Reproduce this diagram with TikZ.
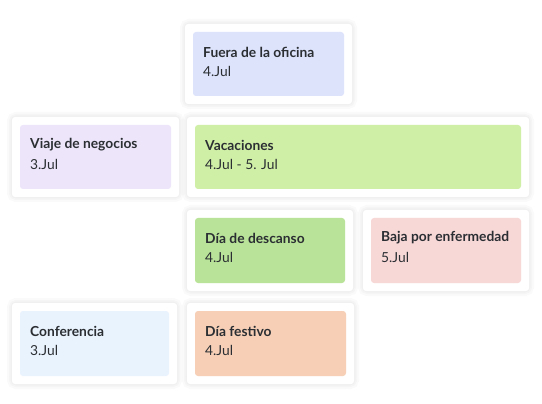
\documentclass[tikz,border=0pt]{standalone}
\usepackage{fontspec}
\setmainfont{Lato}
\definecolor{txt}{HTML}{2B2F33}
\definecolor{cFuera}{HTML}{DCE3FB}
\definecolor{cViaje}{HTML}{EDE5FA}
\definecolor{cVac}{HTML}{D0EFA6}
\definecolor{cDesc}{HTML}{B9E398}
\definecolor{cBaja}{HTML}{F8D7D7}
\definecolor{cConf}{HTML}{E9F3FE}
\definecolor{cFest}{HTML}{F6CFB6}
\tikzset{
  cardbox/.style={fill=white, rounded corners=3pt, inner sep=0pt, outer sep=0pt},
  halo/.style={draw=black, opacity=0.018, line width=#1, rounded corners=4pt},
  evbox/.style={rounded corners=3pt, inner sep=0pt, outer sep=0pt},
  ttl/.style={anchor=west, inner sep=0pt, font=\bfseries\fontsize{13.8}{15}\selectfont, text=txt},
  dte/.style={anchor=west, inner sep=0pt, font=\fontsize{13.8}{15}\selectfont, text=txt},
}
\newcommand{\evcard}[8]{%
  \draw[halo=10pt] (#2,#3) rectangle (#4,#5);
  \draw[halo=6pt] (#2,#3) rectangle (#4,#5);
  \draw[halo=3pt] (#2,#3) rectangle (#4,#5);
  \node[cardbox, minimum width={(#4-#2)*1pt}, minimum height={(#5-#3)*1pt}, anchor=north west] (#1) at (#2,#3) {};
  \node[evbox, fill=#6, minimum width={(#4-#2-16)*1pt}, minimum height={(#5-#3-16)*1pt}, anchor=north west] (#1-in) at ([xshift=8pt,yshift=-8pt]#1.north west) {};
  \node[ttl] (#1-t) at ([xshift=10pt,yshift=-20pt]#1-in.north west) {#7};
  \node[dte] (#1-d) at ([xshift=10pt,yshift=-39pt]#1-in.north west) {#8};
}
\begin{document}
\begin{tikzpicture}[x=1pt,y=-1pt]
\fill[white] (0,0) rectangle (542,404);
\useasboundingbox (0,0) rectangle (542,404);
\evcard{fuera}{185}{24}{352}{104}{cFuera}{Fuera de la oficina}{4.Jul}
\evcard{viaje}{12}{117}{179}{197}{cViaje}{Viaje de negocios}{3.Jul}
\evcard{vac}{187}{117}{529}{197}{cVac}{Vacaciones}{4.Jul - 5. Jul}
\evcard{desc}{187}{210}{353}{291}{cDesc}{Día de descanso}{4.Jul}
\evcard{baja}{363}{210}{529}{291}{cBaja}{Baja por enfermedad}{5.Jul}
\evcard{conf}{12}{303}{177}{384}{cConf}{Conferencia}{3.Jul}
\evcard{fest}{187}{303}{354}{384}{cFest}{Día festivo}{4.Jul}
\end{tikzpicture}
\end{document}
